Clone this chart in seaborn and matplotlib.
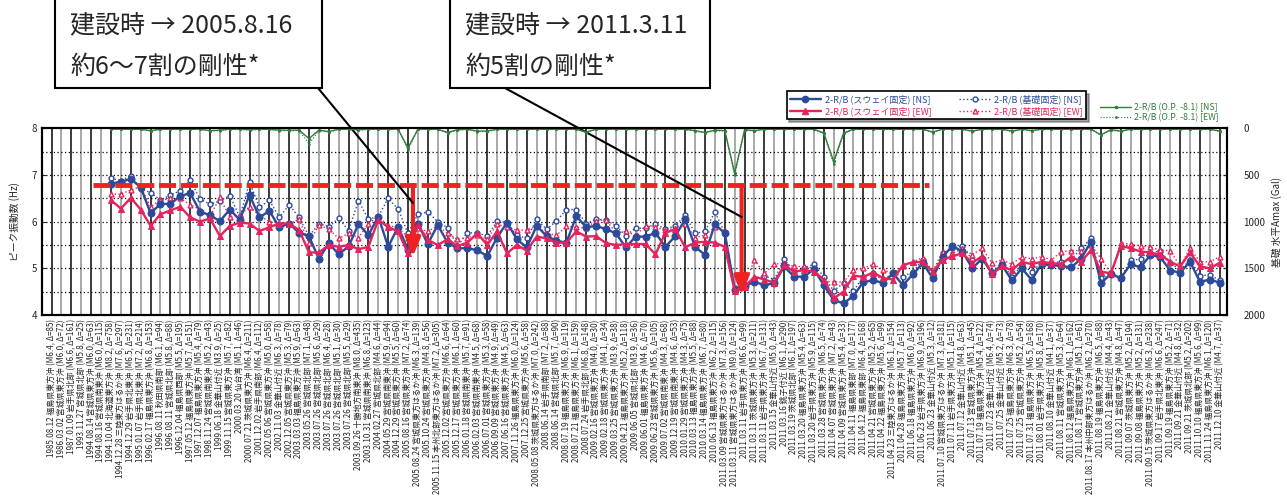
import matplotlib
matplotlib.use('Agg')
import matplotlib.pyplot as plt
from matplotlib.lines import Line2D
from matplotlib.patches import Rectangle
import numpy as np
import seaborn as sns

# events (x axis)
dates = [
    '1985.08.12', '1986.03.02', '1987.01.09', '1993.11.27', '1994.08.14',
    '1994.08.16', '1994.10.04', '1994.12.28', '1994.12.29', '1995.01.07',
    '1996.02.17', '1996.08.11', '1996.08.11', '1996.12.04', '1997.05.12',
    '1997.12.07', '1998.11.24', '1999.06.18', '1999.11.15', '2000.03.20',
    '2000.07.21', '2001.12.02', '2002.05.06', '2002.11.03', '2002.12.05',
    '2003.03.03', '2003.05.26', '2003.07.26', '2003.07.26', '2003.07.26',
    '2003.07.26', '2003.09.26', '2003.10.31', '2004.02.27', '2004.05.29',
    '2004.12.29', '2005.08.16', '2005.08.24', '2005.10.24', '2005.11.15',
    '2005.12.02', '2005.12.17', '2006.01.18', '2006.02.03', '2006.07.01',
    '2006.09.09', '2007.06.16', '2007.11.26', '2007.12.25', '2008.05.08',
    '2008.06.14', '2008.06.14', '2008.07.19', '2008.07.21', '2008.07.24',
    '2009.02.16', '2009.02.18', '2009.03.25', '2009.04.21', '2009.06.05',
    '2009.06.01', '2009.06.23', '2009.07.02', '2009.12.19', '2010.01.29',
    '2010.03.13', '2010.03.14', '2010.06.13', '2011.03.09', '2011.03.11',
    '2011.03.11', '2011.03.11', '2011.03.11', '2011.03.15', '2011.03.16',
    '2011.03.19', '2011.03.20', '2011.03.20', '2011.03.28', '2011.04.07',
    '2011.04.09', '2011.04.11', '2011.04.12', '2011.04.21', '2011.04.22',
    '2011.04.23', '2011.04.28', '2011.06.18', '2011.06.23', '2011.06.23',
    '2011.07.10', '2011.07.11', '2011.07.12', '2011.07.13', '2011.07.19',
    '2011.07.23', '2011.07.25', '2011.07.25', '2011.07.25', '2011.07.31',
    '2011.08.01', '2011.08.10', '2011.08.11', '2011.08.12', '2011.08.17',
    '2011.08.17', '2011.08.19', '2011.08.21', '2011.08.21', '2011.09.07',
    '2011.09.08', '2011.09.15', '2011.09.17', '2011.09.19', '2011.09.21',
    '2011.09.21', '2011.10.10', '2011.11.24', '2011.12.10',
]
places = [
    '福島県東方沖', '宮城県東方沖', '岩手県北部', '宮城県北部', '宮城県東方沖',
    '宮城県南東沖', '北海道東方沖', '三陸東方はるか沖', '岩手県北東沖', '岩手県北東沖',
    '福島県東方沖', '秋田県南部', '宮城県北部', '福島県西部', '福島県東方沖',
    '福島県東方沖', '宮城県南東沖', '金華山付近', '宮城県東方沖', '仙台湾',
    '茨城県東方沖', '岩手県南部', '宮城県東方沖', '金華山付近', '宮城県東方沖',
    '福島県東方沖', '宮城県北部', '宮城県北部', '宮城県北部', '宮城県北部',
    '宮城県北部', '十勝地方南東沖', '宮城県南東沖', '宮城県北部', '宮城県南東沖',
    '宮城県東方沖', '宮城県東方沖', '宮城県東方はるか沖', '宮城県東方沖', '本州北部東方はるか沖',
    '宮城県東方沖', '宮城県東方沖', '宮城県南東沖', '宮城県南東沖', '宮城県東方沖',
    '宮城県東方沖', '宮城県東方沖', '福島県東方沖', '宮城県東方沖', '茨城県東方はるか沖',
    '岩手県南部', '宮城県北部', '福島県東方沖', '福島県東方沖', '岩手県北部',
    '宮城県東方沖', '宮城県東方沖', '宮城県東方沖', '福島県東方沖', '宮城県北部',
    '福島県東方沖', '宮城県東方沖', '宮城県南東沖', '宮城県南東沖', '宮城県東方沖',
    '福島県東方沖', '福島県東方沖', '福島県東方沖', '宮城県東方はるか沖', '宮城県東方はるか沖',
    '岩手県東方沖', '茨城県東方沖', '岩手県東方沖', '金華山付近', '銚子付近',
    '茨城県北部', '福島県東方沖', '岩手県東方沖', '宮城県東方沖', '宮城県東方沖',
    '宮城県東方沖', '福島県東部', '福島県東部', '宮城県東方沖', '福島県東方沖',
    '三陸東方はるか沖', '福島県東方沖', '福島県東方沖', '岩手県東方沖', '金華山付近',
    '宮城県東方はるか沖', '岩手県東方沖', '金華山付近', '宮城県東方沖', '福島県東方沖',
    '金華山付近', '金華山付近', '福島県東方沖', '宮城県東方沖', '福島県東方沖',
    '岩手県東方沖', '金華山付近', '宮城県東方沖', '福島県東方沖', '宮城県東方沖',
    '本州中部東方はるか沖', '福島県東方沖', '金華山付近', '宮城県東方沖', '茨城県東方沖',
    '福島県東方沖', '茨城県東方はるか沖', '岩手県北東沖', '福島県東方沖', '金華山付近',
    '茨城県北部', '福島県東方沖', '福島県東方沖', '金華山付近',
]
mags = [
    '6.4', '6.0', '6.6', '5.8', '6.0', '6.0', '8.2', '7.6', '6.5', '7.2',
    '6.8', '6.1', '5.8', '5.5', '5.7', '5.4', '5.2', '3.9', '5.7', '5.1',
    '6.4', '6.4', '5.0', '6.3', '5.3', '5.9', '7.1', '5.6', '6.4', '5.1',
    '5.5', '8.0', '6.8', '4.6', '5.9', '5.5', '7.2', '6.3', '4.8', '7.2',
    '6.6', '6.1', '5.7', '4.5', '5.3', '4.9', '4.5', '6.0', '5.6', '7.0',
    '7.2', '5.7', '6.9', '6.1', '6.8', '4.0', '4.1', '3.9', '5.2', '3.9',
    '4.6', '5.6', '4.3', '4.6', '4.3', '5.5', '6.7', '6.2', '7.3', '9.0',
    '6.6', '5.3', '6.7', '5.0', '6.1', '6.1', '5.4', '5.9', '6.5', '7.2',
    '5.4', '7.0', '6.4', '5.2', '5.6', '6.1', '5.7', '6.0', '6.9', '5.3',
    '7.3', '5.1', '4.8', '5.1', '5.4', '6.4', '5.2', '6.3', '5.2', '6.5',
    '5.8', '4.1', '5.3', '6.1', '5.1', '6.2', '6.5', '4.4', '4.8', '5.2',
    '5.2', '6.3', '6.6', '5.2', '4.8', '5.2', '5.6', '6.1', '4.7',
]
deltas = [
    85, 72, 161, 25, 63, 115, 758, 297, 231, 214,
    153, 94, 88, 195, 151, 79, 43, 25, 82, 46,
    211, 112, 58, 78, 79, 63, 48, 29, 28, 30,
    29, 435, 123, 44, 94, 60, 74, 139, 56, 305,
    64, 60, 91, 68, 58, 49, 63, 124, 58, 242,
    88, 90, 119, 159, 148, 30, 34, 38, 118, 36,
    70, 105, 68, 53, 75, 88, 80, 115, 156, 124,
    99, 211, 131, 43, 290, 197, 63, 115, 74, 43,
    33, 177, 168, 65, 99, 154, 113, 92, 196, 12,
    181, 115, 63, 45, 122, 74, 73, 78, 54, 168,
    170, 37, 64, 162, 61, 270, 88, 43, 47, 194,
    131, 238, 247, 71, 32, 202, 99, 120, 37,
]

# records start with the 7th event (1994.10.04)
first_record = 7

# peak frequency (Hz), sway-fixed model
ns_sway = [
    6.81, 6.86, 6.91, 6.74, 6.18, 6.38, 6.38, 6.55, 6.61, 6.21,
    6.14, 6.01, 6.26, 6.04, 6.57, 6.09, 6.23, 5.88, 5.96, 5.76,
    5.69, 5.20, 5.54, 5.30, 5.47, 5.95, 5.71, 6.11, 5.46, 5.89,
    5.40, 5.96, 5.52, 5.93, 5.55, 5.43, 5.43, 5.39, 5.26, 5.66,
    5.98, 5.62, 5.45, 5.91, 5.69, 5.59, 5.55, 6.12, 5.88, 5.91,
    5.84, 5.75, 5.45, 5.68, 5.68, 5.76, 5.46, 5.69, 6.05, 5.46,
    5.29, 5.95, 5.75, 4.54, 4.62, 4.71, 4.64, 4.68, 5.04, 4.82,
    4.82, 4.98, 4.64, 4.32, 4.25, 4.41, 4.71, 4.74, 4.69, 4.89,
    4.64, 4.87, 5.11, 4.79, 5.25, 5.48, 5.36, 5.00, 5.21, 4.89,
    5.07, 4.74, 5.00, 4.75, 5.09, 5.07, 5.05, 5.02, 5.21, 5.57,
    4.68, 4.88, 4.79, 5.09, 5.02, 5.29, 5.24, 4.95, 4.91, 5.14,
    4.71, 4.76, 4.69,
]
ew_sway = [
    6.46, 6.28, 6.51, 6.26, 5.91, 6.16, 6.24, 6.32, 6.09, 6.00,
    6.07, 5.69, 5.91, 5.98, 5.96, 5.80, 5.88, 5.96, 5.96, 5.82,
    5.34, 5.34, 5.50, 5.46, 5.50, 5.41, 5.46, 6.04, 5.88, 5.79,
    5.32, 5.93, 5.61, 5.50, 5.62, 5.48, 5.55, 5.75, 5.50, 5.79,
    5.32, 5.50, 5.38, 5.68, 5.64, 5.55, 5.55, 5.79, 5.68, 5.69,
    5.54, 5.50, 5.52, 5.52, 5.52, 5.30, 5.76, 5.84, 5.45, 5.55,
    5.57, 5.55, 5.46, 4.52, 4.60, 4.82, 4.76, 4.69, 5.07, 4.93,
    4.96, 4.93, 4.76, 4.36, 4.50, 4.84, 4.82, 4.91, 4.79, 4.76,
    5.07, 5.13, 5.14, 4.93, 5.18, 5.26, 5.32, 5.12, 5.26, 4.88,
    5.04, 4.96, 5.14, 5.09, 5.14, 5.11, 5.09, 5.25, 5.14, 5.39,
    4.93, 4.89, 5.48, 5.43, 5.36, 5.34, 5.29, 5.14, 5.04, 5.34,
    5.04, 5.00, 5.12,
]
# peak frequency (Hz), base-fixed model
ns_base = [
    6.93, 6.88, 6.98, 6.71, 6.62, 6.46, 6.57, 6.66, 6.89, 6.48,
    6.37, 6.44, 6.56, 6.10, 6.84, 6.31, 6.46, 6.09, 6.36, 6.09,
    5.69, 5.96, 5.89, 6.07, 5.81, 6.45, 6.05, 6.11, 6.50, 6.27,
    5.75, 6.16, 6.21, 6.00, 5.87, 5.48, 5.76, 5.76, 5.69, 6.01,
    5.98, 5.71, 5.64, 6.05, 5.84, 6.01, 6.26, 6.26, 5.96, 6.05,
    6.04, 5.91, 5.70, 5.86, 5.86, 5.95, 5.84, 5.91, 6.14, 5.75,
    5.79, 6.21, 5.76, 4.57, 4.65, 4.76, 4.84, 4.76, 5.19, 4.93,
    5.00, 5.09, 4.82, 4.52, 4.68, 4.52, 4.82, 4.89, 4.75, 4.90,
    4.82, 4.93, 5.18, 4.86, 5.32, 5.43, 5.48, 5.18, 5.21, 4.93,
    5.11, 4.82, 5.07, 4.93, 5.12, 5.12, 5.14, 5.19, 5.43, 5.64,
    4.79, 4.89, 4.79, 5.18, 5.19, 5.32, 5.38, 5.11, 4.96, 5.18,
    4.84, 4.86, 4.74,
]
ew_base = [
    6.59, 6.59, 6.68, 6.75, 6.32, 6.46, 6.50, 6.50, 6.36, 6.26,
    6.11, 6.52, 6.09, 6.14, 6.32, 6.13, 6.00, 5.98, 5.96, 6.05,
    5.54, 5.93, 5.84, 5.64, 5.75, 5.66, 5.95, 6.12, 5.91, 5.88,
    5.66, 5.86, 5.79, 5.91, 5.75, 5.62, 5.66, 5.71, 5.62, 5.95,
    5.88, 5.82, 5.82, 5.90, 5.75, 5.71, 5.90, 5.88, 5.86, 6.02,
    6.04, 5.76, 5.79, 5.71, 5.91, 5.88, 5.82, 5.86, 5.96, 5.66,
    5.71, 5.88, 5.79, 4.57, 4.65, 5.18, 4.89, 5.09, 5.11, 5.04,
    5.04, 5.00, 4.71, 4.71, 4.71, 4.96, 5.00, 5.09, 4.96, 4.89,
    5.04, 5.14, 5.23, 4.93, 5.36, 5.32, 5.43, 5.29, 5.43, 5.11,
    5.18, 5.09, 5.25, 5.20, 5.25, 5.18, 5.36, 5.38, 5.38, 5.50,
    5.21, 4.89, 5.54, 5.52, 5.48, 5.45, 5.39, 5.38, 5.04, 5.43,
    5.14, 5.14, 5.25,
]
# horizontal Amax at O.P. -8.1 (Gal)
amax_ns = [
    10, 10, 10, 10, 25, 10, 10, 10, 10, 10,
    25, 20, 10, 10, 15, 10, 10, 20, 20, 20,
    110, 20, 35, 10, 10, 15, 10, 10, 10, 10,
    210, 10, 10, 10, 45, 15, 10, 30, 30, 10,
    10, 10, 10, 10, 10, 10, 10, 10, 40, 10,
    10, 10, 10, 10, 10, 10, 10, 10, 10, 25,
    45, 20, 25, 480, 15, 25, 10, 10, 10, 10,
    10, 10, 50, 355, 50, 10, 10, 10, 10, 10,
    10, 10, 10, 40, 10, 10, 10, 30, 10, 10,
    10, 30, 10, 25, 10, 10, 10, 10, 10, 10,
    70, 15, 30, 10, 10, 10, 10, 10, 10, 10,
    10, 10, 30,
]
amax_ew = [
    12, 12, 12, 12, 30, 12, 12, 12, 12, 12,
    30, 25, 12, 12, 20, 12, 12, 25, 25, 25,
    165, 25, 40, 12, 12, 20, 12, 12, 12, 12,
    230, 12, 12, 12, 55, 20, 12, 35, 35, 12,
    12, 12, 12, 12, 12, 12, 12, 12, 45, 12,
    12, 12, 12, 12, 12, 12, 12, 12, 12, 30,
    50, 25, 30, 505, 20, 30, 12, 12, 12, 12,
    12, 12, 60, 380, 55, 12, 12, 12, 12, 12,
    12, 12, 12, 45, 12, 12, 12, 35, 12, 12,
    12, 35, 12, 30, 12, 12, 12, 12, 12, 12,
    75, 20, 35, 12, 12, 12, 12, 12, 12, 12,
    12, 12, 35,
]

# stiffness annotations
design_level = 6.78
dashed_span = (5.2, 89.6)
drops = [(37.5, 5.25), (70.7, 4.43)]
notes = [('建設時 → 2005.8.16', '約6～7割の剛性*'),
         ('建設時 → 2011.3.11', '約5割の剛性*')]

sns.set_style('white')
plt.rcParams['font.family'] = ['Noto Sans CJK JP', 'DejaVu Sans']

BLUE = '#2c4a9a'
RED = '#e4245c'
GREEN = '#2e7d3a'
ARROW = '#ee2222'

labels = [f'{d} {p} (M{m}, Δ={a})' for d, p, m, a in zip(dates, places, mags, deltas)]
pos = np.arange(1, len(dates) + 1)
rec = pos[first_record - 1:]

W, H = 1287, 504
fig = plt.figure(figsize=(W / 100, H / 100), dpi=100)
ax = fig.add_axes([41.7 / W, 1 - 315 / H, 1185 / W, 186.7 / H])
ax2 = ax.twinx()

# grid
ax.vlines(pos, 4, 8, colors=['#1a1a1a' if i % 2 == 0 else '#9a9a9a' for i in range(len(pos))],
          lw=1.2, zorder=0)
for yv in np.arange(4.5, 8, 0.5):
    ax.axhline(yv, color='k', lw=0.9, ls=(0, (1, 2)), zorder=0)

sns.lineplot(x=rec, y=ns_base, ax=ax, color=BLUE, lw=1.0, linestyle=':', marker='o',
             markersize=3.5, markerfacecolor='white', markeredgecolor=BLUE, markeredgewidth=1,
             legend=False, zorder=3)
sns.lineplot(x=rec, y=ew_base, ax=ax, color=RED, lw=1.0, linestyle=':', marker='^',
             markersize=3.5, markerfacecolor='white', markeredgecolor=RED, markeredgewidth=1,
             legend=False, zorder=3)
sns.lineplot(x=rec, y=ns_sway, ax=ax, color=BLUE, lw=1.7, marker='o', markersize=5,
             markeredgecolor=BLUE, legend=False, zorder=4)
sns.lineplot(x=rec, y=ew_sway, ax=ax, color=RED, lw=1.7, marker='^', markersize=5,
             markeredgecolor=RED, legend=False, zorder=5)

sns.lineplot(x=rec, y=amax_ew, ax=ax2, color=GREEN, lw=0.8, linestyle=':', marker='.',
             markersize=2, markeredgecolor=GREEN, legend=False)
sns.lineplot(x=rec, y=amax_ns, ax=ax2, color=GREEN, lw=1.0, marker='.', markersize=3,
             markeredgecolor=GREEN, legend=False)

ax.set_xlim(0, 119.7)
ax.set_ylim(4, 8)
ax2.set_ylim(2000, 0)

# dashed construction level and red drop arrows
ax.plot(dashed_span, [design_level, design_level], color=ARROW, lw=3.5,
        dashes=(3.5, 1.0), solid_capstyle='butt', zorder=6)
for xv, yv in drops:
    ax.annotate('', xy=(xv, yv), xytext=(xv, design_level),
                arrowprops=dict(arrowstyle='-|>,head_width=0.45,head_length=1.1',
                                color=ARROW, lw=3, shrinkA=0, shrinkB=0), zorder=7)

# note boxes with leader lines
boxes = [(55, 322), (450, 710)]
leader_ends = [(37.5, 6.40), (70.7, 6.10)]
leader_starts = [(318, 88), (505, 88)]
for (x0, x1), (l1, l2), (sx, sy), end in zip(boxes, notes, leader_starts, leader_ends):
    fig.add_artist(Rectangle((x0 / W, 1 - 88 / H), (x1 - x0) / W, 0.2,
                             transform=fig.transFigure, facecolor='white',
                             edgecolor='k', lw=1.5))
    fig.text((x0 + 15) / W, 1 - 25 / H, l1, fontsize=18, va='center')
    fig.text((x0 + 15) / W, 1 - 67 / H, l2, fontsize=18, va='center')
    ax.annotate('', xy=end, xytext=(sx / W, 1 - sy / H), textcoords='figure fraction',
                arrowprops=dict(arrowstyle='-', color='k', lw=1.5, shrinkA=0, shrinkB=0),
                zorder=8, annotation_clip=False)

# axes cosmetics
ax.set_xticks(pos)
ax.set_xticklabels(labels, rotation=90, fontsize=5.8)
ax.set_yticks([4, 5, 6, 7, 8])
ax.tick_params(axis='x', direction='in', length=3, pad=3)
ax.tick_params(axis='y', direction='in', length=3, labelsize=7)
ax2.set_yticks([0, 500, 1000, 1500, 2000])
ax2.tick_params(axis='y', direction='in', length=3, labelsize=7, pad=12)
ax.set_ylabel('ピーク振動数 (Hz)', fontsize=7, labelpad=8)
ax2.set_ylabel('基礎 水平Amax (Gal)', fontsize=7, labelpad=4)
for a in (ax, ax2):
    for sp in a.spines.values():
        sp.set_color('k')
        sp.set_linewidth(1.5)

# legends
handles = [
    Line2D([], [], color=BLUE, lw=1.7, marker='o', ms=4.5),
    Line2D([], [], color=RED, lw=1.7, marker='^', ms=4.5),
    Line2D([], [], color=BLUE, lw=1, ls=':', marker='o', ms=3.5, mfc='white'),
    Line2D([], [], color=RED, lw=1, ls=':', marker='^', ms=3.5, mfc='white'),
]
names = ['2-R/B (スウェイ固定) [NS]', '2-R/B (スウェイ固定) [EW]',
         '2-R/B (基礎固定) [NS]', '2-R/B (基礎固定) [EW]']
leg = ax.legend(handles, names, ncol=2, loc='lower left',
                bbox_to_anchor=(782 / W, 1 - 124 / H), bbox_transform=fig.transFigure,
                fontsize=6.5, frameon=True, fancybox=False, edgecolor='k', shadow=True,
                handlelength=3.5, handletextpad=0.4, columnspacing=3.0, borderpad=0.35,
                labelspacing=0.25)
leg.get_frame().set_linewidth(1.2)
for t, c in zip(leg.get_texts(), [BLUE, RED, BLUE, RED]):
    t.set_color(c)
leg.set_zorder(20)

g_handles = [Line2D([], [], color=GREEN, lw=1, marker='.', ms=3),
             Line2D([], [], color=GREEN, lw=0.8, ls=':', marker='.', ms=2)]
leg2 = ax2.legend(g_handles, ['2-R/B (O.P. -8.1) [NS]', '2-R/B (O.P. -8.1) [EW]'],
                  loc='lower left', bbox_to_anchor=(1096 / W, 1 - 126 / H),
                  bbox_transform=fig.transFigure, fontsize=6.3, frameon=False,
                  handlelength=3.5, borderpad=0, labelspacing=0.0, handletextpad=0.3)
for t in leg2.get_texts():
    t.set_color(GREEN)

fig.savefig('out.png', dpi=100)
